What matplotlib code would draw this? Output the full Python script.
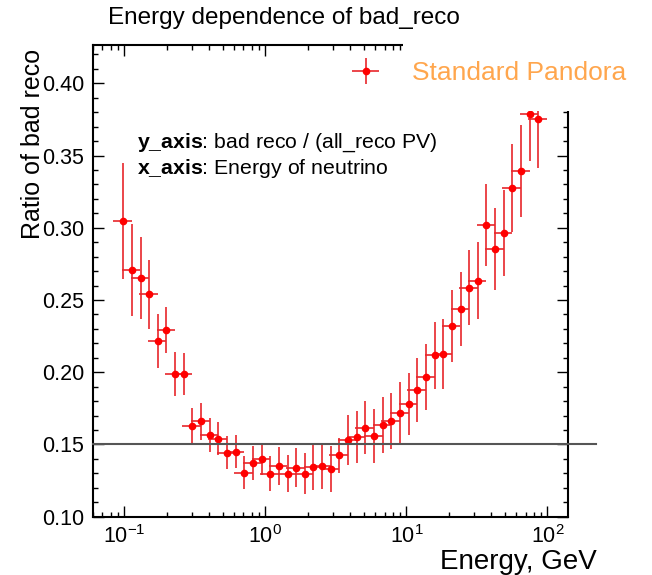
import matplotlib
matplotlib.use("Agg")
import matplotlib.pyplot as plt
from matplotlib.patches import Rectangle
from matplotlib.ticker import FormatStrFormatter, MultipleLocator, NullFormatter

plt.rcParams['font.family'] = ['Liberation Sans', 'DejaVu Sans']
plt.rcParams['mathtext.fontset'] = 'custom'
plt.rcParams['mathtext.rm'] = 'Liberation Sans'
plt.rcParams['mathtext.it'] = 'Liberation Sans:italic'
plt.rcParams['mathtext.bf'] = 'Liberation Sans:bold'

# ---- data ----
energy = [0.0984, 0.1133, 0.1305, 0.1503, 0.1731, 0.1993, 0.2295, 0.2643, 0.3044, 0.3505,
          0.4036, 0.4648, 0.5353, 0.6164, 0.7098, 0.8174, 0.9415, 1.084, 1.248, 1.438,
          1.656, 1.907, 2.196, 2.529, 2.912, 3.354, 3.862, 4.448, 5.122, 5.898,
          6.792, 7.822, 9.008, 10.37, 11.95, 13.76, 15.84, 18.25, 21.01, 24.20,
          27.86, 32.09, 36.95, 42.56, 49.01, 56.44, 65.00, 74.84, 86.18]
energy_err = [0.0148, 0.0170, 0.0196, 0.0225, 0.0260, 0.0299, 0.0344, 0.0396, 0.0457, 0.0526,
              0.0605, 0.0697, 0.0803, 0.0925, 0.1065, 0.1226, 0.1412, 0.1626, 0.1872, 0.2157,
              0.2484, 0.2861, 0.3294, 0.3794, 0.4368, 0.5031, 0.5793, 0.6672, 0.7683, 0.8847,
              1.0188, 1.1733, 1.3512, 1.5555, 1.7925, 2.064, 2.376, 2.7375, 3.1515, 3.63,
              4.179, 4.8135, 5.5425, 6.384, 7.3515, 8.466, 9.75, 11.226, 12.927]
ratio = [0.3047, 0.2708, 0.2652, 0.254, 0.2216, 0.2292, 0.1988, 0.1988, 0.1628, 0.166,
         0.1566, 0.154, 0.1443, 0.145, 0.1305, 0.137, 0.1401, 0.1298, 0.1351, 0.1298,
         0.1339, 0.1298, 0.1344, 0.1349, 0.133, 0.1425, 0.1531, 0.1552, 0.1616, 0.1559,
         0.1633, 0.1665, 0.1718, 0.1782, 0.1879, 0.1967, 0.2117, 0.2128, 0.232, 0.2436,
         0.2585, 0.2634, 0.3021, 0.2851, 0.2962, 0.3275, 0.3393, 0.379, 0.3751]
ratio_err = [0.040, 0.032, 0.0286, 0.024, 0.019, 0.016, 0.0152, 0.0145, 0.0127, 0.0127,
             0.0116, 0.0116, 0.0116, 0.0113, 0.0116, 0.0116, 0.0111, 0.012, 0.013, 0.013,
             0.0135, 0.0143, 0.0161, 0.016, 0.016, 0.0121, 0.0173, 0.018, 0.0183, 0.0187,
             0.0194, 0.0194, 0.0215, 0.0215, 0.0221, 0.0228, 0.023, 0.0242, 0.025, 0.0256,
             0.026, 0.0266, 0.0284, 0.0284, 0.0298, 0.0305, 0.0318, 0.0325, 0.0339]
reference_level = 0.15
reference_line_x = [0.06, 221]

W, H = 652, 575
fig = plt.figure(figsize=(W / 100, H / 100), dpi=100)
ax = fig.add_axes([92.7 / W, 1 - 516.7 / H, (568 - 92.7) / W, (516.7 - 45) / H])

eb = ax.errorbar(energy, ratio, xerr=energy_err, yerr=ratio_err, fmt='o', color='#ff0000',
                 ecolor='#e8262b', elinewidth=1.2, markersize=4.5, capsize=0, zorder=3,
                 label='Standard Pandora')

ax.plot(reference_line_x, [reference_level, reference_level], color='#555555', lw=1.5,
        clip_on=False, zorder=4)

ax.set_xscale('log')
ax.set_xlim(0.0598, 139.8)
ax.set_ylim(0.10, 0.4265)
ax.yaxis.set_major_locator(MultipleLocator(0.05))
ax.yaxis.set_minor_locator(MultipleLocator(0.01))
ax.yaxis.set_major_formatter(FormatStrFormatter('%.2f'))
ax.xaxis.set_minor_formatter(NullFormatter())
ax.tick_params(which='both', direction='in', top=True, right=True, labelsize=15.5, width=1)
ax.tick_params(which='major', length=7.7, pad=6)
ax.tick_params(axis='x', which='major', pad=6)
ax.tick_params(which='minor', length=3.8)
for s in ax.spines.values():
    s.set_linewidth(1.5)

ax.text(0.093, 0.792, r"$\mathbf{y\_axis}$: bad reco / (all_reco PV)", transform=ax.transAxes,
        fontsize=15.3, va='center', ha='left')
ax.text(0.093, 0.739, r"$\mathbf{x\_axis}$: Energy of neutrino", transform=ax.transAxes,
        fontsize=15.3, va='center', ha='left')

# white box behind legend, covering top-right corner of the frame
fig.add_artist(Rectangle((403 / W, 1 - 111 / H), (W - 403) / W, (111 - 35) / H,
                         transform=fig.transFigure, facecolor='white', edgecolor='none', zorder=5))
leg = fig.legend(handles=[eb], labels=['Standard Pandora'], loc='center left',
                 bbox_to_anchor=(322 / W, 1 - 73 / H), frameon=False, fontsize=19,
                 labelcolor='#ffa64d', handlelength=1.5, handletextpad=1.0)
leg.set_zorder(6)

fig.text(108 / W, 1 - 18 / H, "Energy dependence of bad_reco", fontsize=17.5, ha='left', va='center')
fig.text(33 / W, 1 - 49 / H, "Ratio of bad reco", fontsize=18, rotation=90, ha='center', va='top')
fig.text(597 / W, 1 - 569 / H, "Energy, GeV", fontsize=20, ha='right', va='baseline')

fig.savefig('out.png', dpi=100)
